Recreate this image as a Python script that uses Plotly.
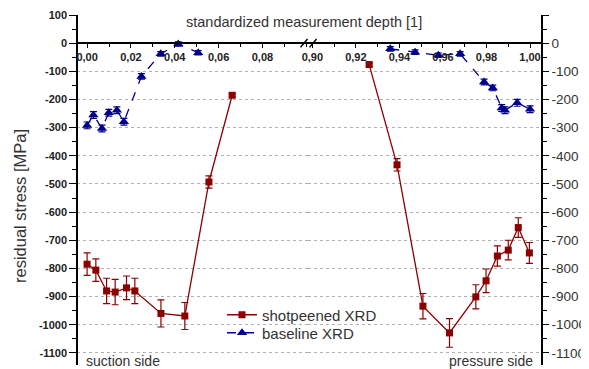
import plotly.graph_objects as go

# ---------------- data ----------------
# shotpeened XRD, suction side (left segment)
shot_sx = [0.0, 0.0040, 0.0089, 0.0128, 0.0180, 0.0218, 0.0337, 0.0446, 0.0556, 0.0662]
shot_sy = [-785, -806, -880, -884, -869, -880, -960, -969, -493, -185]
shot_se = [40, 40, 45, 45, 42, 45, 48, 48, 22, 6]
# shotpeened XRD, pressure side (right segment)
shot_px = [0.9261, 0.9389, 0.9508, 0.9630, 0.9751, 0.9798, 0.9850, 0.9900, 0.9946, 0.9997]
shot_py = [-76, -432, -934, -1029, -901, -844, -756, -735, -655, -745]
shot_pe = [6, 22, 45, 51, 43, 42, 36, 35, 35, 37]
# baseline XRD, suction side
base_sx = [0.0, 0.0029, 0.0068, 0.0099, 0.0136, 0.0168, 0.0248, 0.0336, 0.0416, 0.0507]
base_sy = [-292, -255, -303, -247, -238, -279, -118, -38, -3, -34]
base_se = [12, 12, 12, 12, 12, 12, 10, 8, 8, 8]
# baseline XRD, pressure side
base_px = [0.9358, 0.9472, 0.9579, 0.9679, 0.9789, 0.9829, 0.9870, 0.9885, 0.9941, 1.0]
base_py = [-20, -32, -43, -38, -138, -159, -230, -238, -212, -235]
base_pe = [8, 8, 8, 8, 10, 10, 12, 12, 12, 12]

x_left_ticks = [0.0, 0.02, 0.04, 0.06, 0.08]
x_left_text = ["0,00", "0,02", "0,04", "0,06", "0,08"]
x_right_ticks = [0.90, 0.92, 0.94, 0.96, 0.98, 1.00]
x_right_text = ["0,90", "0,92", "0,94", "0,96", "0,98", "1,00"]
y_ticks = list(range(100, -1101, -100))
y_text = [str(v) for v in y_ticks]

# ---------------- styling ----------------
RED = "#8b0000"
BLUE = "#00008b"
FONT = "Arial, Liberation Sans, sans-serif"
Y_RANGE = [-1143, 100]
X_LEFT_RANGE = [-0.0046, 0.1008]
X_RIGHT_RANGE = [0.898, 1.0055]
SPLIT = 0.4968
Y0_POS = (0 - Y_RANGE[0]) / (Y_RANGE[1] - Y_RANGE[0])
OFF = 8  # page body margin
PL, PR, PT, PB = 77, 542, 15, 365  # plot box in page pixels
PW, PH = PR - PL, PB - PT


def px_x(p):
    return (p - PL) / PW


def px_y(p):
    return (PB - p) / PH


fig = go.Figure()

def add(x, y, e, xa, color, dash, symbol, size, name, show, legend):
    fig.add_trace(go.Scatter(
        x=x, y=y, xaxis=xa, yaxis="y", mode="lines+markers", name=name,
        legendgroup=name, showlegend=show, legend=legend,
        line=dict(color=color, width=1.3, dash=dash),
        marker=dict(color=color, symbol=symbol, size=size),
        error_y=dict(type="data", array=e, color=color, thickness=1.2, width=3.5),
    ))

add(shot_sx, shot_sy, shot_se, "x", RED, "solid", "square", 7, "shotpeened XRD", True, "legend")
add(shot_px, shot_py, shot_pe, "x2", RED, "solid", "square", 7, "shotpeened XRD", False, "legend")
add(base_sx, base_sy, base_se, "x", BLUE, "dash", "triangle-up", 9, "baseline XRD", True, "legend2")
add(base_px, base_py, base_pe, "x2", BLUE, "dash", "triangle-up", 9, "baseline XRD", False, "legend2")

xcommon = dict(anchor="free", position=Y0_POS, showline=True, linecolor="black", linewidth=1.5,
               ticks="outside", ticklen=4, tickcolor="black", showgrid=False, zeroline=False,
               tickfont=dict(family=FONT, size=11, color="#222", weight="bold"),
               minor=dict(dtick=0.01, ticks="outside", ticklen=3, tickcolor="black"))

legcommon = dict(xanchor="left", yanchor="middle", bgcolor="rgba(0,0,0,0)",
                 font=dict(family=FONT, size=15, color="#333"), itemwidth=30)

fig.update_layout(
    width=589 - OFF, height=369 - OFF,
    margin=dict(l=PL - OFF, r=589 - PR, t=PT - OFF, b=369 - PB, autoexpand=False),
    paper_bgcolor="white", plot_bgcolor="white",
    font=dict(family=FONT, color="#333"),
    xaxis=dict(domain=[0, SPLIT], range=X_LEFT_RANGE, tickvals=x_left_ticks, ticktext=x_left_text,
               **xcommon),
    xaxis2=dict(domain=[SPLIT, 1], range=X_RIGHT_RANGE, tickvals=x_right_ticks, ticktext=x_right_text,
                **xcommon),
    yaxis=dict(range=Y_RANGE, anchor="free", position=0, side="left",
               tickvals=y_ticks, ticktext=y_text, showline=True, linecolor="black", linewidth=1.5,
               ticks="outside", ticklen=7, tickcolor="black",
               tickfont=dict(family=FONT, size=11, color="#222", weight="bold"),
               showgrid=True, gridcolor="#b0b0b0", griddash="dot", gridwidth=1, zeroline=False,
               minor=dict(dtick=50, tick0=0, ticks="outside", ticklen=4, tickcolor="black", showgrid=False)),
    yaxis2=dict(range=Y_RANGE, overlaying="y", anchor="free", position=1, side="right",
                tickvals=y_ticks, ticktext=y_text, showline=True, linecolor="black", linewidth=1.5,
                ticks="outside", ticklen=6, tickcolor="black",
                tickfont=dict(family=FONT, size=13.5, color="#333"),
                showgrid=False, zeroline=False,
                minor=dict(dtick=50, tick0=0, ticks="outside", ticklen=4, tickcolor="black")),
    legend=dict(x=px_x(222), y=px_y(315), **legcommon),
    legend2=dict(x=px_x(222), y=px_y(333), **legcommon),
    showlegend=True,
)

# dummy trace so the right axis is drawn
fig.add_trace(go.Scatter(x=[None], y=[None], yaxis="y2", xaxis="x2", showlegend=False, hoverinfo="skip"))

annotations = [
    dict(text="standardized measurement depth [1]", xref="paper", yref="paper",
         x=px_x(304), y=px_y(22), xanchor="center", yanchor="middle",
         showarrow=False, font=dict(family=FONT, size=14.5, color="#333")),
    dict(text="residual stress [MPa]", xref="paper", yref="paper", textangle=-90,
         x=px_x(20), y=px_y(206), xanchor="center", yanchor="middle",
         showarrow=False, font=dict(family=FONT, size=16.5, color="#333")),
    dict(text="suction side", xref="paper", yref="paper", x=px_x(84), y=px_y(361),
         xanchor="left", yanchor="middle", showarrow=False, font=dict(family=FONT, size=14, color="#333")),
    dict(text="pressure side", xref="paper", yref="paper", x=px_x(535), y=px_y(361),
         xanchor="right", yanchor="middle", showarrow=False, font=dict(family=FONT, size=14, color="#333")),
]
fig.update_layout(annotations=annotations)

# axis break marks "//"
shapes = []
for p in (304, 313):
    xc = px_x(p)
    shapes.append(dict(type="line", xref="paper", yref="y", x0=xc - 3.5 / PW, x1=xc + 3.5 / PW,
                       y0=-15, y1=15, line=dict(color="black", width=1.5)))
fig.update_layout(shapes=shapes)

fig.write_html("out.html")
